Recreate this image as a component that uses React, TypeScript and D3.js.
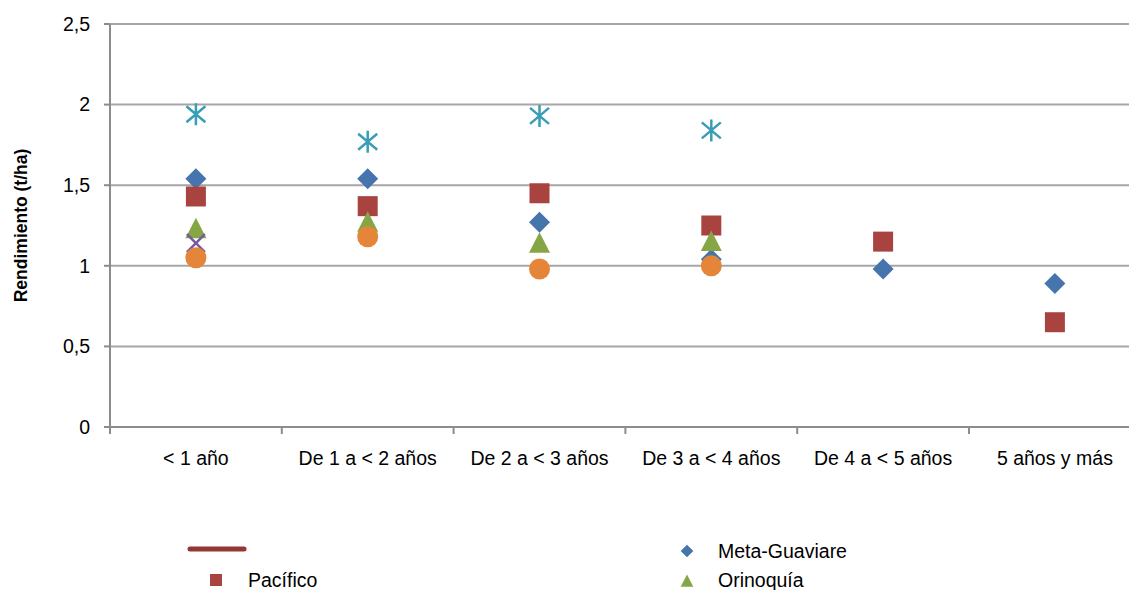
import React from "react";
import * as d3 from "d3";

const categories = ["< 1 año", "De 1 a < 2 años", "De 2 a < 3 años", "De 3 a < 4 años", "De 4 a < 5 años", "5 años y más"];
const metaGuaviare = [1.54, 1.54, 1.27, 1.04, 0.98, 0.89];
const pacifico = [1.43, 1.37, 1.45, 1.25, 1.15, 0.65];
const orinoquia = [1.23, 1.27, 1.14, 1.15, null, null];
const seriesX = [1.14, null, null, null, null, null];
const seriesStar = [1.94, 1.77, 1.93, 1.84, null, null];
const seriesCircle = [1.05, 1.18, 0.98, 1.0, null, null];
const yTicks = [0, 0.5, 1, 1.5, 2, 2.5];
const yTickLabels = ["0", "0,5", "1", "1,5", "2", "2,5"];

const W = 1129, H = 590;
const left = 110, top = 24, bottom = 427;
const bandW = 171.8;
const FONT = "'Liberation Sans', Arial, sans-serif";

const shapes: Record<string, string> = {
  diamond: "M0,-10.5L10.5,0L0,10.5L-10.5,0Z",
  square: "M-10,-10H10V10H-10Z",
  triangle: "M0,-11L10.5,9.5H-10.5Z",
  circle: "M10.5,0A10.5,10.5 0 1 1 -10.5,0A10.5,10.5 0 1 1 10.5,0Z",
  x: "M-9,-9L9,9M-9,9L9,-9",
  star: "M0,-11V11M-9.5,-8L9.5,8M-9.5,8L9.5,-8",
};

const series = [
  { name: "Meta-Guaviare", values: metaGuaviare, shape: "diamond", color: "#4674AC", stroke: false },
  { name: "Pacífico", values: pacifico, shape: "square", color: "#A9433F", stroke: false },
  { name: "Orinoquía", values: orinoquia, shape: "triangle", color: "#86A646", stroke: false },
  { name: "x", values: seriesX, shape: "x", color: "#7659A0", stroke: true },
  { name: "star", values: seriesStar, shape: "star", color: "#3A9DB8", stroke: true },
  { name: "circle", values: seriesCircle, shape: "circle", color: "#E4853A", stroke: false },
];

export default function App() {
  const x = d3.scaleBand<string>().domain(categories).range([left, left + bandW * categories.length]);
  const y = d3.scaleLinear().domain([0, 2.5]).range([bottom, top]);
  const right = left + bandW * categories.length;
  const boundaries = categories.map((c) => x(c) as number).concat([right]);

  return (
    <svg width={W} height={H} style={{ position: "absolute", left: 0, top: 0, background: "#fff" }} fontFamily={FONT}>
      {yTicks.slice(1).map((t) => (
        <line key={t} x1={left} x2={right} y1={y(t)} y2={y(t)} stroke="#A6A6A6" strokeWidth={2} />
      ))}
      <line x1={left} x2={left} y1={top} y2={bottom} stroke="#8C8C8C" strokeWidth={2} />
      <line x1={left} x2={right} y1={bottom} y2={bottom} stroke="#8C8C8C" strokeWidth={2} />
      {yTicks.map((t, i) => (
        <g key={"yt" + t}>
          <line x1={left - 6} x2={left} y1={y(t)} y2={y(t)} stroke="#8C8C8C" strokeWidth={2} />
          <text x={90} y={y(t)} dy="0.35em" textAnchor="end" fontSize={19.5} fill="#000">{yTickLabels[i]}</text>
        </g>
      ))}
      {boundaries.map((b, i) => (
        <line key={"xt" + i} x1={b} x2={b} y1={bottom} y2={bottom + 7} stroke="#8C8C8C" strokeWidth={2} />
      ))}
      {categories.map((c) => (
        <text key={c} x={(x(c) as number) + x.bandwidth() / 2} y={465} textAnchor="middle" fontSize={19.5} fill="#000">{c}</text>
      ))}
      <text transform={`translate(27,${(top + bottom) / 2}) rotate(-90)`} textAnchor="middle" fontSize={17.5} fontWeight="bold" fill="#000">Rendimiento (t/ha)</text>
      {series.map((s) => (
        <g key={s.name}>
          {s.values.map((v, i) =>
            v == null ? null : (
              <path
                key={i}
                transform={`translate(${(x(categories[i]) as number) + x.bandwidth() / 2},${y(v)})`}
                d={shapes[s.shape]}
                fill={s.stroke ? "none" : s.color}
                stroke={s.color}
                strokeWidth={s.stroke ? 2.5 : 0}
              />
            )
          )}
        </g>
      ))}
      {/* legend */}
      <line x1={190} x2={244} y1={549} y2={549} stroke="#943634" strokeWidth={5} strokeLinecap="round" />
      <path transform="translate(216,580) scale(0.6)" d={shapes.square} fill="#A9433F" />
      <text x={248} y={580} dy="0.35em" fontSize={19.5} fill="#000">Pacífico</text>
      <path transform="translate(687,551) scale(0.6)" d={shapes.diamond} fill="#4674AC" />
      <text x={718} y={551} dy="0.35em" fontSize={19.5} fill="#000">Meta-Guaviare</text>
      <path transform="translate(687,581) scale(0.6)" d={shapes.triangle} fill="#86A646" />
      <text x={718} y={580} dy="0.35em" fontSize={19.5} fill="#000">Orinoquía</text>
    </svg>
  );
}
